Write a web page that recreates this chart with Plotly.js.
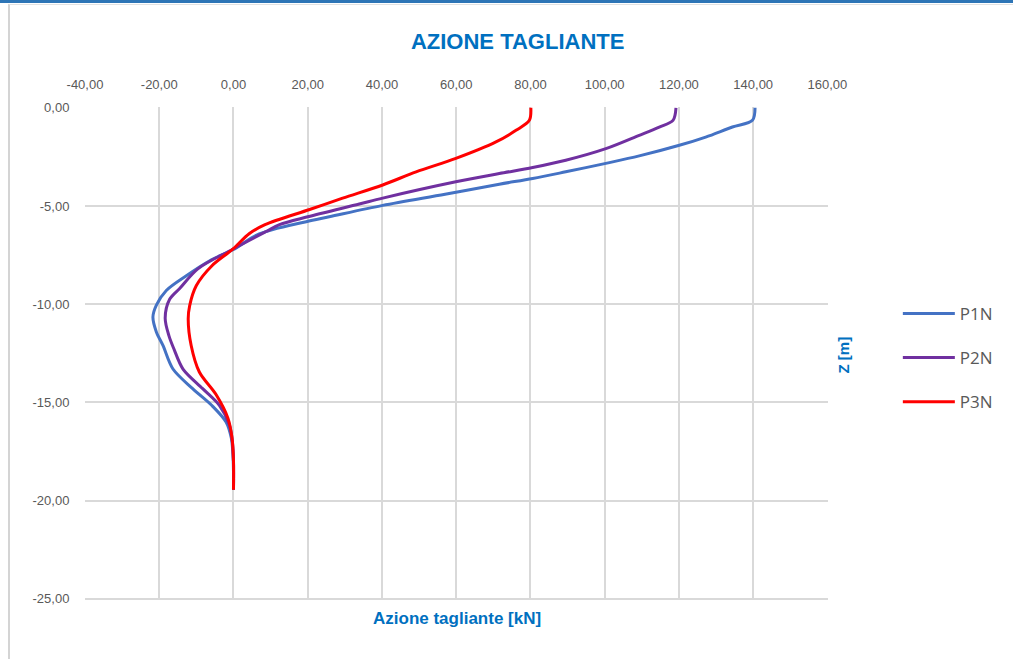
<!DOCTYPE html>
<html>
<head>
<meta charset="utf-8">
<script src="https://cdn.plot.ly/plotly-3.0.1.min.js"></script>
<style>
  html, body { margin: 0; padding: 0; background: #ffffff; }
  #wrap { position: relative; width: 1013px; height: 659px; overflow: hidden; background: #fff; }
  #topbar { position: absolute; left: 0; top: 0; width: 1013px; height: 3px; background: #2e75b6; }
  #frame { position: absolute; left: 8px; top: 4px; width: 1010px; height: 660px;
           border-left: 2px solid #d4d4d4; border-top: 1px solid #e2e2e2; }
  #chart { position: absolute; left: 0; top: 0; width: 1013px; height: 659px; }
</style>
</head>
<body>
<div id="wrap">
  <div id="topbar"></div>
  <div id="frame"></div>
  <div id="chart"></div>
</div>
<script>
// ---- data (shear force [kN] vs depth Z [m]) ----
const seriesNames = ["P1N", "P2N", "P3N"];

const p1nZ = [0, -0.64, -0.98, -1.49, -1.91, -2.45, -2.83, -3.26, -3.6, -3.89, -4.4, -4.97, -5.55, -5.8, -6.2, -6.5, -7.23, -7.8, -8.55, -9.3, -10.06, -10.65, -11.4, -12.1, -13.3, -14.3, -15.2, -16.0, -16.8, -17.5, -18.5, -19.45];
const p1nV = [140.5, 139.8, 134.4, 127.2, 120.1, 109.3, 100.3, 89.5, 80.6, 71.6, 57.0, 40.2, 25.8, 19.6, 10.6, 6.1, -0.2, -6.5, -12.7, -18.1, -20.8, -21.7, -20.8, -19.0, -16.3, -11.0, -5.6, -2.0, -0.6, -0.2, 0.0, 0.0];

const p2nZ = [0, -0.64, -0.98, -1.4, -2.08, -2.67, -3.04, -3.35, -3.77, -4.6, -4.9, -5.55, -5.95, -6.3, -7.2, -8.2, -9.2, -9.75, -10.7, -11.6, -12.3, -13.3, -14.3, -15.15, -16.15, -17.0, -18.0, -19.45];
const p2nV = [119.2, 118.4, 114.7, 109.3, 100.3, 89.5, 80.6, 71.6, 59.9, 40.2, 33.9, 20.0, 12.4, 8.8, -0.2, -9.6, -14.5, -17.2, -18.4, -17.4, -16.0, -13.6, -8.3, -3.8, -1.1, -0.3, 0.0, 0.0];

const p3nZ = [0, -0.64, -1.15, -1.74, -2.58, -3.26, -3.93, -4.6, -5.18, -5.95, -6.4, -7.2, -8.04, -9.05, -10.07, -10.75, -12.1, -13.45, -14.6, -15.8, -16.8, -18.0, -19.45];
const p3nV = [80.1, 79.7, 76.1, 70.7, 59.9, 49.2, 40.2, 29.4, 20.5, 8.5, 4.3, -0.2, -5.8, -10.0, -11.8, -12.2, -11.4, -9.2, -4.7, -1.5, -0.4, 0.0, 0.0];

const xTickVals = [-40, -20, 0, 20, 40, 60, 80, 100, 120, 140, 160];
const yTickVals = [0, -5, -10, -15, -20, -25];

const colors = ["#4472c4", "#7030a0", "#ff0000"];
const zs = [p1nZ, p2nZ, p3nZ];
const vs = [p1nV, p2nV, p3nV];

// Italian number format with a plain hyphen minus, e.g. "-40,00"
const fmt = v => v.toFixed(2).replace(".", ",");

const sans = "'Liberation Sans', Arial, sans-serif";
const labelColor = "#595959";
const blue = "#0070c0";

const traces = seriesNames.map((n, i) => ({
  type: "scatter",
  mode: "lines",
  name: n,
  legendgroup: n,
  x: vs[i],
  y: zs[i],
  line: { color: colors[i], width: 3, shape: "spline", smoothing: 0.9 }
}));

const layout = {
  width: 1013,
  height: 659,
  paper_bgcolor: "rgba(0,0,0,0)",
  plot_bgcolor: "rgba(0,0,0,0)",
  margin: { l: 85, r: 185, t: 107, b: 59 },
  showlegend: true,
  legend: {
    x: 1.094, xanchor: "left",
    y: 0.491, yanchor: "middle",
    font: { family: "'Open Sans', 'Liberation Sans', sans-serif", size: 17, color: labelColor },
    tracegroupgap: 19,
    itemwidth: 52,
    bgcolor: "rgba(0,0,0,0)"
  },
  xaxis: {
    side: "top",
    range: [-40, 160.15],
    tickvals: xTickVals,
    ticktext: xTickVals.map(fmt),
    showgrid: true,
    gridcolor: "#d9d9d9",
    gridwidth: 2,
    zeroline: false,
    showline: false,
    ticks: "outside",
    ticklen: 12,
    tickcolor: "rgba(0,0,0,0)",
    tickfont: { family: sans, size: 13, color: labelColor }
  },
  yaxis: {
    range: [-25.06, 0.04],
    tickvals: yTickVals,
    ticktext: yTickVals.map(fmt),
    showgrid: true,
    gridcolor: "#d9d9d9",
    gridwidth: 2,
    zeroline: false,
    showline: false,
    ticks: "outside",
    ticklen: 12,
    tickcolor: "rgba(0,0,0,0)",
    tickfont: { family: sans, size: 13, color: labelColor }
  },
  title: {
    text: "<b>AZIONE TAGLIANTE</b>",
    x: 0.511, xanchor: "center", xref: "container",
    y: 0.937, yanchor: "middle", yref: "container",
    font: { family: sans, size: 22, color: blue }
  },
  annotations: [
    {
      text: "<b>Azione tagliante [kN]</b>",
      xref: "paper", yref: "paper",
      x: 0.5, y: 0, xanchor: "center", yanchor: "top",
      yshift: -7,
      showarrow: false,
      font: { family: sans, size: 17, color: blue }
    },
    {
      text: "<b>Z [m]</b>",
      xref: "paper", yref: "paper",
      x: 1, y: 0.497, xanchor: "left", yanchor: "middle",
      xshift: 5,
      textangle: -90,
      showarrow: false,
      font: { family: sans, size: 15, color: blue }
    }
  ]
};

Plotly.newPlot("chart", traces, layout, { displayModeBar: false, staticPlot: true });
</script>
</body>
</html>
